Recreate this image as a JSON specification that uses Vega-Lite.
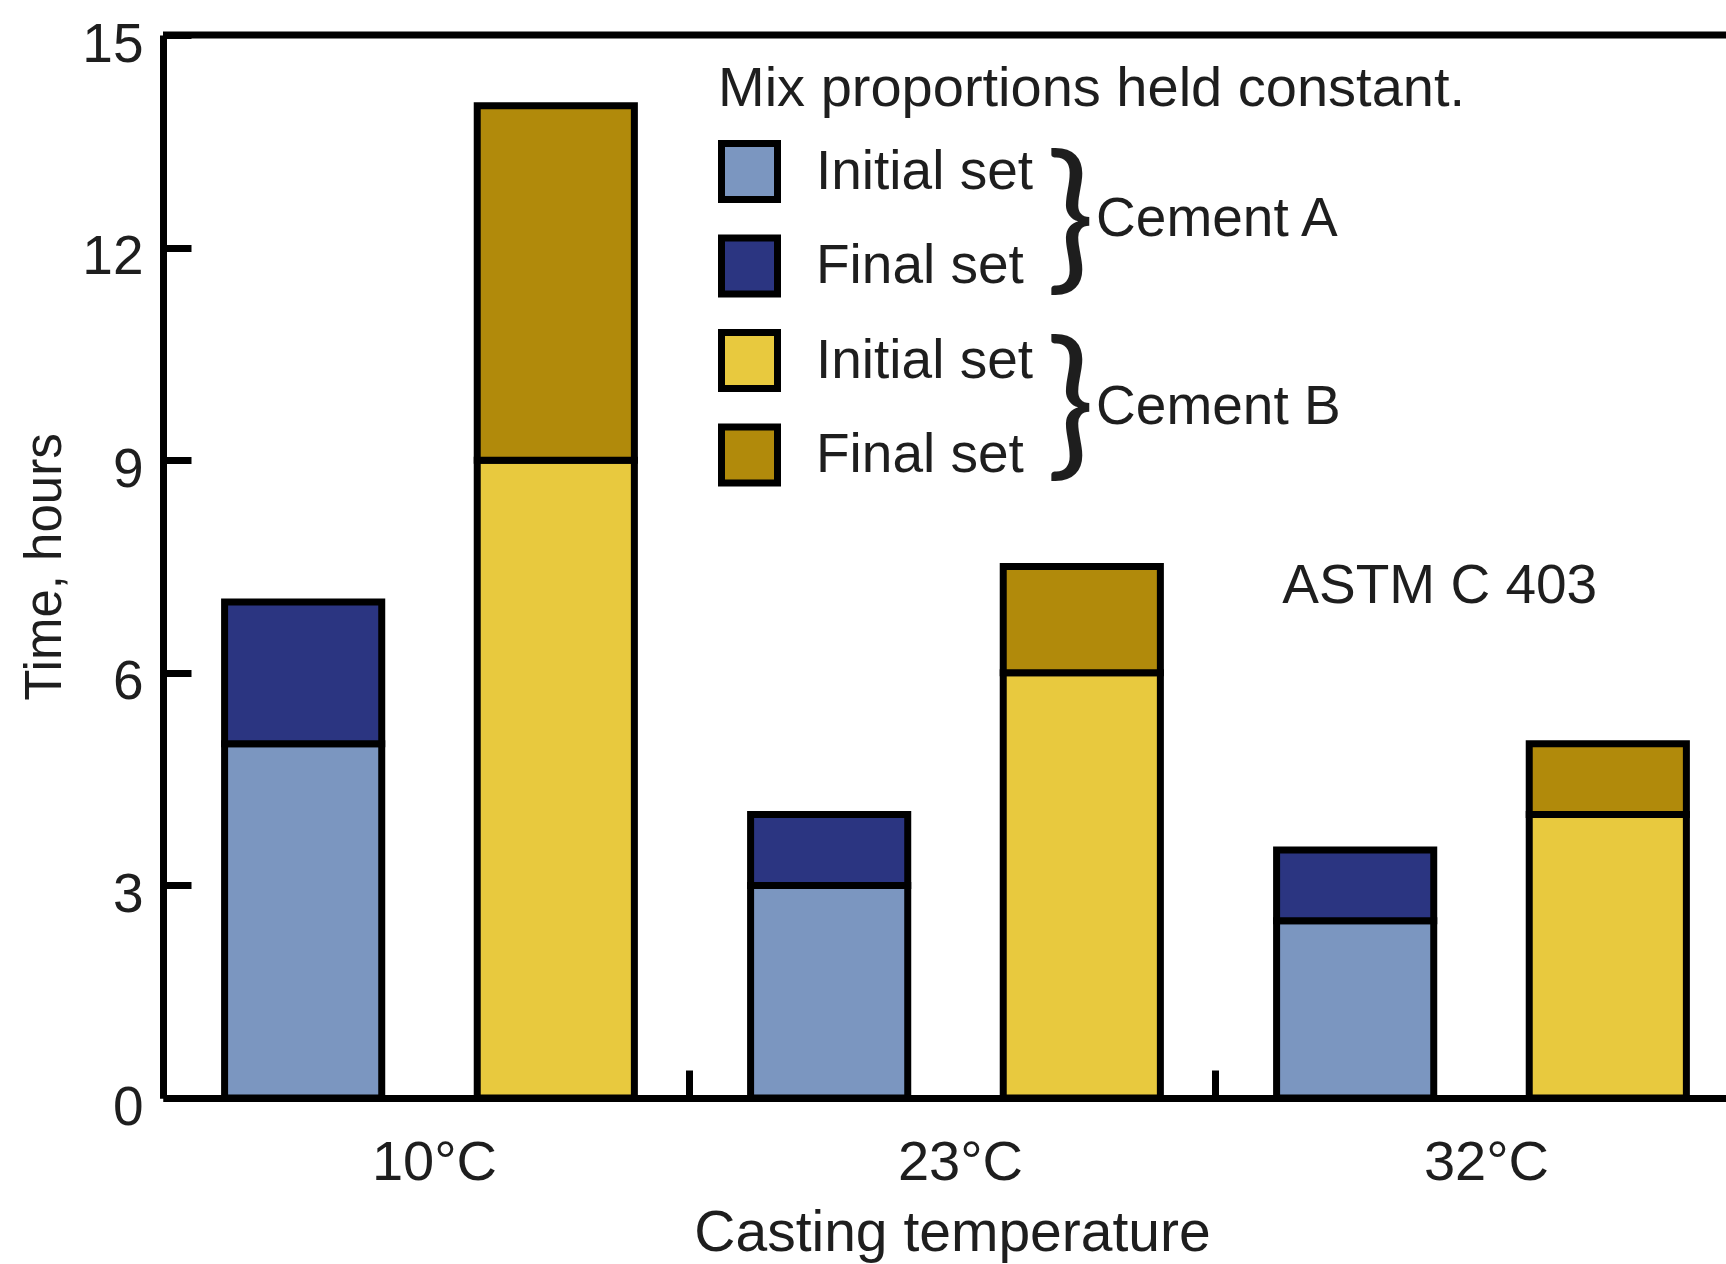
{
  "$schema": "https://vega.github.io/schema/vega-lite/v6.json",
  "width": 1563,
  "height": 1063,
  "autosize": "none",
  "padding": {"left": 163, "top": 35, "right": 0, "bottom": 166},
  "background": "white",
  "config": {
    "view": {"stroke": null},
    "font": "Liberation Sans",
    "text": {"font": "Liberation Sans", "color": "#1e1e1e"},
    "axis": {
      "domainColor": "black",
      "domainWidth": 7,
      "tickColor": "black",
      "tickWidth": 7,
      "tickSize": -28,
      "labelColor": "#1e1e1e",
      "labelFont": "Liberation Sans",
      "titleColor": "#1e1e1e",
      "titleFont": "Liberation Sans",
      "titleFontWeight": "normal",
      "grid": false
    },
    "legend": {
      "orient": "none",
      "legendX": 555,
      "legendY": 27,
      "padding": 0,
      "titleFont": "Liberation Sans",
      "titleFontSize": 56,
      "titleFontWeight": "normal",
      "titleColor": "#1e1e1e",
      "titlePadding": 22,
      "titleLimit": 1000,
      "labelFont": "Liberation Sans",
      "labelFontSize": 55,
      "labelColor": "#1e1e1e",
      "labelOffset": 35,
      "labelLimit": 600,
      "symbolType": "square",
      "symbolSize": 3136,
      "symbolStrokeColor": "black",
      "symbolStrokeWidth": 7,
      "symbolOpacity": 1,
      "rowPadding": 9.5
    }
  },
  "layer": [
    {
      "data": {
        "values": [
          {"temperature": "10°C", "cement": "A", "series": "A-Initial", "start": 0, "end": 5},
          {"temperature": "10°C", "cement": "A", "series": "A-Final", "start": 5, "end": 7},
          {"temperature": "10°C", "cement": "B", "series": "B-Initial", "start": 0, "end": 9},
          {"temperature": "10°C", "cement": "B", "series": "B-Final", "start": 9, "end": 14},
          {"temperature": "23°C", "cement": "A", "series": "A-Initial", "start": 0, "end": 3},
          {"temperature": "23°C", "cement": "A", "series": "A-Final", "start": 3, "end": 4},
          {"temperature": "23°C", "cement": "B", "series": "B-Initial", "start": 0, "end": 6},
          {"temperature": "23°C", "cement": "B", "series": "B-Final", "start": 6, "end": 7.5},
          {"temperature": "32°C", "cement": "A", "series": "A-Initial", "start": 0, "end": 2.5},
          {"temperature": "32°C", "cement": "A", "series": "A-Final", "start": 2.5, "end": 3.5},
          {"temperature": "32°C", "cement": "B", "series": "B-Initial", "start": 0, "end": 4},
          {"temperature": "32°C", "cement": "B", "series": "B-Final", "start": 4, "end": 5}
        ]
      },
      "mark": {"type": "bar", "stroke": "black", "strokeWidth": 7, "opacity": 1},
      "encoding": {
        "x": {
          "field": "temperature",
          "type": "nominal",
          "sort": ["10°C", "23°C", "32°C"],
          "scale": {"range": [0, 1578], "paddingInner": 0, "paddingOuter": 0},
          "axis": {
            "title": "Casting temperature",
            "tickBand": "extent",
            "labelAngle": 0,
            "labelFontSize": 56,
            "labelPadding": 65,
            "labelOffset": 8,
            "titleFontSize": 57,
            "titlePadding": 15
          }
        },
        "xOffset": {
          "field": "cement",
          "type": "nominal",
          "scale": {"paddingInner": 0.378, "paddingOuter": 0.23, "align": 0.53}
        },
        "y": {
          "field": "start",
          "type": "quantitative",
          "scale": {"domain": [0, 15], "nice": false},
          "axis": {
            "title": "Time, hours",
            "values": [0, 3, 6, 9, 12, 15],
            "format": "d",
            "labelFontSize": 55,
            "labelPadding": 48,
            "labelOffset": 9,
            "titleFontSize": 51,
            "titlePadding": 10
          }
        },
        "y2": {"field": "end"},
        "color": {
          "field": "series",
          "type": "nominal",
          "scale": {
            "domain": ["A-Initial", "A-Final", "B-Initial", "B-Final"],
            "range": ["#7b96c0", "#2b3581", "#e8c93e", "#b18a0b"]
          },
          "legend": {
            "title": "Mix proportions held constant.",
            "labelExpr": "indexof(datum.label, 'Initial') >= 0 ? 'Initial set' : 'Final set'"
          }
        }
      }
    },
    {
      "data": {"values": [{"hours": 15}]},
      "mark": {"type": "rule", "stroke": "black", "strokeWidth": 7},
      "encoding": {"y": {"field": "hours", "type": "quantitative"}}
    },
    {
      "data": {
        "values": [
          {"label": "}", "gx": 1.725, "hours": 12.35},
          {"label": "}", "gx": 1.725, "hours": 9.72}
        ]
      },
      "mark": {"type": "text", "align": "center", "baseline": "middle", "fontSize": 162, "font": "Lato", "fontWeight": 400},
      "encoding": {
        "x": {"field": "gx", "type": "quantitative", "scale": {"domain": [0, 3], "range": [0, 1578]}, "axis": null},
        "y": {"field": "hours", "type": "quantitative"},
        "text": {"field": "label"}
      }
    },
    {
      "data": {
        "values": [
          {"label": "Cement A", "gx": 1.774, "hours": 12.4},
          {"label": "Cement B", "gx": 1.774, "hours": 9.75},
          {"label": "ASTM C 403", "gx": 2.128, "hours": 7.22}
        ]
      },
      "mark": {"type": "text", "align": "left", "baseline": "middle", "fontSize": 55},
      "encoding": {
        "x": {"field": "gx", "type": "quantitative", "scale": {"domain": [0, 3], "range": [0, 1578]}, "axis": null},
        "y": {"field": "hours", "type": "quantitative"},
        "text": {"field": "label"}
      }
    }
  ],
  "resolve": {"scale": {"x": "independent"}}
}
